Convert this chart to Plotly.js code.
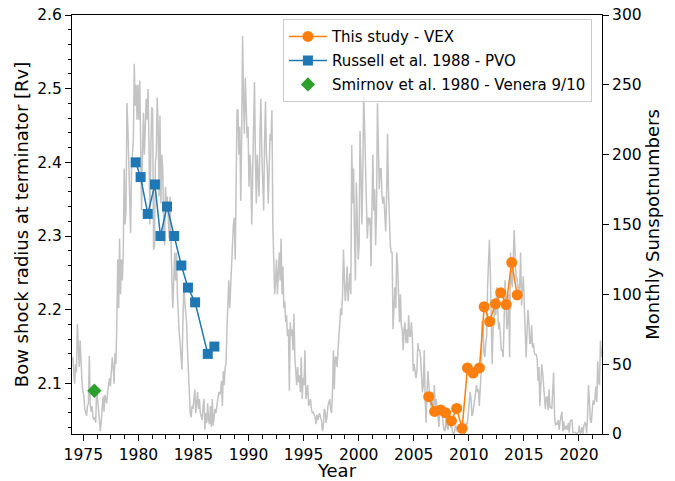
<!DOCTYPE html>
<html>
<head>
<meta charset="utf-8">
<script src="https://cdn.plot.ly/plotly-3.0.1.min.js"></script>
<style>
  html, body { margin: 0; padding: 0; background: #fff; }
  #chart { width: 675px; height: 481px; }
</style>
</head>
<body>
<div id="chart"></div>
<script>
// ---- Data ----
// Monthly sunspot numbers, January 1974 onward (one row per year)
const sunspotStartYear = 1974;
const sunspotValues = [
  55, 43, 36, 50, 44, 79, 60, 48, 67, 44, 38, 30,        // 1974
  28, 18, 15, 13, 20, 22, 56, 21, 16, 20, 12, 10,        // 1975
  12, 8, 33, 25, 22, 14, 2, 9, 22, 27, 16, 28,           // 1976
  25, 22, 30, 35, 40, 34, 45, 55, 48, 36, 58, 50,        // 1977
  80, 125, 90, 140, 100, 125, 110, 130, 190, 150, 160, 237, // 1978
  220, 200, 170, 144, 190, 200, 210, 265, 235, 250, 225, 250, // 1979
  225, 253, 187, 160, 200, 230, 200, 215, 240, 225, 247, 210, // 1980
  150, 200, 234, 232, 132, 135, 195, 200, 241, 220, 170, 228, // 1981
  165, 200, 190, 150, 135, 177, 165, 170, 155, 140, 170, 125, // 1982
  110, 90, 120, 130, 110, 130, 100, 80, 72, 65, 50, 46,  // 1983
  80, 105, 95, 85, 80, 60, 45, 40, 15, 12, 20, 18,       // 1984
  28, 32, 15, 22, 30, 18, 25, 15, 12, 10, 20, 25,        // 1985
  3, 15, 8, 22, 10, 7, 20, 5, 25, 6, 12, 18,             // 1986
  15, 20, 25, 30, 28, 30, 38, 20, 45, 35, 48, 50,        // 1987
  75, 95, 110, 90, 110, 130, 135, 150, 155, 125, 170, 232, // 1988
  232, 200, 220, 167, 210, 285, 240, 215, 255, 230, 212, 220, // 1989
  177, 200, 190, 150, 185, 195, 252, 200, 165, 200, 180, 170, // 1990
  215, 240, 200, 175, 160, 210, 238, 200, 190, 165, 205, 215, // 1991
  210, 232, 150, 120, 100, 110, 125, 100, 120, 130, 110, 140, // 1992
  100, 120, 90, 95, 80, 85, 70, 75, 31, 80, 70, 75,      // 1993
  60, 86, 55, 40, 35, 48, 37, 42, 30, 55, 25, 40,        // 1994
  35, 60, 25, 30, 35, 20, 22, 25, 18, 15, 16, 14,        // 1995
  12, 7, 14, 10, 12, 15, 12, 10, 2, 5, 18, 16,           // 1996
  8, 12, 20, 22, 25, 18, 15, 30, 60, 32, 55, 55,         // 1997
  48, 60, 75, 80, 90, 85, 100, 132, 110, 95, 105, 120,   // 1998
  95, 110, 115, 100, 207, 165, 190, 140, 110, 180, 150, 125, // 1999
  135, 217, 190, 150, 185, 244, 220, 175, 165, 140, 155, 150, // 2000
  155, 120, 180, 200, 160, 175, 135, 160, 237, 200, 175, 190, // 2001
  190, 170, 165, 170, 155, 145, 170, 215, 175, 150, 135, 130, // 2002
  130, 75, 100, 105, 90, 130, 120, 100, 80, 100, 78, 75, // 2003
  60, 75, 80, 65, 75, 65, 85, 70, 70, 80, 70, 45,        // 2004
  50, 45, 40, 45, 65, 60, 60, 55, 35, 30, 35, 60,        // 2005
  25, 8, 30, 45, 35, 25, 20, 20, 30, 15, 35, 20,         // 2006
  25, 20, 8, 5, 20, 20, 18, 10, 5, 2, 3, 17,             // 2007
  5, 3, 15, 7, 5, 5, 1, 0.5, 1.2, 6, 5, 2,               // 2008
  2, 2, 1, 1, 4, 5, 5, 0, 6, 8, 7, 17,                   // 2009
  20, 30, 25, 13, 15, 20, 25, 30, 35, 30, 32, 20,        // 2010
  30, 45, 80, 80, 58, 55, 65, 70, 105, 125, 139, 115,    // 2011
  90, 50, 75, 80, 95, 85, 105, 90, 75, 80, 70, 60,       // 2012
  60, 55, 80, 110, 95, 75, 80, 100, 55, 130, 110, 105,   // 2013
  125, 146, 128, 112, 112, 102, 100, 106, 130, 92, 100, 113, // 2014
  93, 66, 55, 73, 89, 80, 65, 65, 78, 62, 65, 58,        // 2015
  57, 57, 54, 38, 48, 20, 32, 50, 44, 33, 21, 18,        // 2016
  26, 27, 17, 32, 19, 19, 18, 33, 44, 13, 6, 8,          // 2017
  7, 10, 3, 9, 13, 16, 2, 9, 3, 5, 6, 3,                 // 2018
  8, 1, 9, 10, 10, 1, 1, 0.5, 1, 0.4, 0.5, 1.5,          // 2019
  6, 0.2, 1.5, 5, 0.2, 6, 8, 7.5, 0.6, 14, 35, 23,       // 2020
  10, 8, 17, 24, 21, 25, 34, 23, 52, 37, 35, 67,         // 2021
  55, 60                                                 // 2022
];

// This study - VEX
const vexYears  = [2006.36, 2006.9, 2007.45, 2007.9, 2008.43, 2008.9, 2009.4, 2009.88, 2010.4, 2010.97, 2011.4, 2011.9, 2012.43, 2012.9, 2013.4, 2013.9, 2014.4];
const vexRadius = [2.082, 2.062, 2.064, 2.060, 2.049, 2.066, 2.039, 2.121, 2.114, 2.121, 2.204, 2.184, 2.208, 2.223, 2.207, 2.264, 2.220];

// Russell et al. 1988 - PVO
const pvoYears  = [1979.75, 1980.2, 1980.85, 1981.5, 1982.0, 1982.6, 1983.25, 1983.9, 1984.5, 1985.15, 1986.3, 1986.9];
const pvoRadius = [2.40, 2.38, 2.33, 2.37, 2.30, 2.34, 2.30, 2.26, 2.23, 2.21, 2.14, 2.15];

// Smirnov et al. 1980 - Venera 9/10
const veneraYears  = [1976.0];
const veneraRadius = [2.09];

const legendNames = ['This study - VEX', 'Russell et al. 1988 - PVO', 'Smirnov et al. 1980 - Venera 9/10'];

// ---- Build traces ----
const sunspotYears = sunspotValues.map((_, i) => sunspotStartYear + (i + 0.5) / 12);

const FONT = 'DejaVu Sans, sans-serif';

const traces = [
  {
    x: sunspotYears, y: sunspotValues, yaxis: 'y',
    type: 'scatter', mode: 'lines',
    line: { color: '#c3c3c3', width: 1.5 },
    showlegend: false, hoverinfo: 'skip'
  },
  {
    x: vexYears, y: vexRadius, yaxis: 'y2',
    type: 'scatter', mode: 'lines+markers', name: legendNames[0],
    line: { color: '#ff7f0e', width: 1.5 },
    marker: { color: '#ff7f0e', size: 11, symbol: 'circle' },
    cliponaxis: false, legendgroup: 'a'
  },
  {
    x: pvoYears, y: pvoRadius, yaxis: 'y2',
    type: 'scatter', mode: 'lines+markers', name: legendNames[1],
    line: { color: '#1f77b4', width: 1.5 },
    marker: { color: '#1f77b4', size: 10, symbol: 'square' },
    legendgroup: 'b'
  },
  {
    x: veneraYears, y: veneraRadius, yaxis: 'y2',
    type: 'scatter', mode: 'markers', name: legendNames[2],
    marker: { color: '#2ca02c', size: 11, symbol: 'diamond' },
    legendgroup: 'c'
  }
];

const layout = {
  width: 675, height: 481,
  margin: { l: 72, r: 73, t: 15, b: 47, pad: 0 },
  paper_bgcolor: '#ffffff', plot_bgcolor: '#ffffff',
  font: { family: FONT, color: '#000000', size: 15 },
  showlegend: true,
  legend: {
    x: 0.398, y: 0.99, xanchor: 'left', yanchor: 'top',
    bgcolor: 'rgba(255,255,255,0.8)', bordercolor: '#cccccc', borderwidth: 1,
    font: { family: FONT, size: 15, color: '#000' },
    itemwidth: 38,
    traceorder: 'grouped', tracegroupgap: 1.5
  },
  xaxis: {
    range: [1973.97, 2022.1],
    tickmode: 'linear', tick0: 1975, dtick: 5,
    ticks: 'outside', ticklen: 6, tickwidth: 1, tickcolor: '#000',
    showline: true, linecolor: '#000', linewidth: 1, mirror: true,
    showgrid: false, zeroline: false,
    tickfont: { family: FONT, size: 15.5, color: '#000' },
    minor: { tick0: 1975, dtick: 1.25, ticks: 'outside', ticklen: 3.5, tickwidth: 1, tickcolor: '#000', showgrid: false },
    title: { text: 'Year', font: { family: FONT, size: 18, color: '#000' }, standoff: 6 }
  },
  yaxis: {
    range: [0, 300], side: 'right',
    tickmode: 'linear', tick0: 0, dtick: 50,
    ticks: 'outside', ticklen: 6, tickwidth: 1, tickcolor: '#000',
    showline: true, linecolor: '#000', linewidth: 1,
    showgrid: false, zeroline: false,
    tickfont: { family: FONT, size: 15.5, color: '#000' },
    title: { text: 'Monthly Sunspotnumbers', font: { family: FONT, size: 18, color: '#000' }, standoff: 5 }
  },
  yaxis2: {
    range: [2.0313, 2.6], side: 'left', overlaying: 'y',
    tickmode: 'linear', tick0: 2.0, dtick: 0.1, tickformat: '.1f',
    ticks: 'outside', ticklen: 6, tickwidth: 1, tickcolor: '#000',
    showline: true, linecolor: '#000', linewidth: 1,
    showgrid: false, zeroline: false,
    tickfont: { family: FONT, size: 15.5, color: '#000' },
    minor: { tick0: 2.0, dtick: 0.02, ticks: 'outside', ticklen: 3.5, tickwidth: 1, tickcolor: '#000', showgrid: false },
    title: { text: 'Bow shock radius at terminator [Rv]', font: { family: FONT, size: 18, color: '#000' }, standoff: 3 }
  }
};

Plotly.newPlot('chart', traces, layout, { displayModeBar: false, staticPlot: true });
</script>
</body>
</html>
